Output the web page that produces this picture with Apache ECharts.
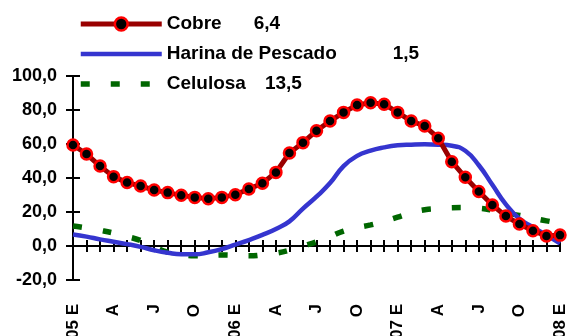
<!DOCTYPE html>
<html>
<head>
<meta charset="utf-8">
<script src="https://cdn.jsdelivr.net/npm/echarts@6/dist/echarts.min.js"></script>
<style>
html,body{margin:0;padding:0;background:#fff;}
#chart{width:568px;height:336px;}
</style>
</head>
<body>
<div id="chart"></div>
<script>
// months from Jan 2005 to Jan 2008
var months=['05-01','05-02','05-03','05-04','05-05','05-06','05-07','05-08','05-09','05-10','05-11','05-12',
    '06-01','06-02','06-03','06-04','06-05','06-06','06-07','06-08','06-09','06-10','06-11','06-12',
    '07-01','07-02','07-03','07-04','07-05','07-06','07-07','07-08','07-09','07-10','07-11','07-12',
    '08-01'];
var xLabels=['05 E','A','J','O','06 E','A','J','O','07 E','A','J','O','08 E'];

var cobre=[59.4,54.1,47,40.8,37.3,35.3,32.9,31.4,29.8,28.6,27.8,28.6,30.2,33.5,36.9,43.3,
    54.7,60.8,67.8,73.5,78.6,82.9,84.3,83.4,78.6,73.5,70.6,63.4,49.6,40.4,32,24.1,17.6,12.9,9,5.9,6.4];
var harina=[6.8,5.5,3.9,2.5,1.1,-0.5,-2.5,-4,-4.9,-4.9,-3.7,-1.8,0.8,3.5,6.5,10,
    14.5,22,29,37,47,53,56.1,58,59.2,59.6,59.8,59.6,59,56,47.5,36,24.5,16,11,6.5,1.5];
var celulosa=[11.8,10.6,9.2,7.6,5.6,3.2,-0.5,-3.6,-5,-5.8,-5.6,-5.3,-5.5,-5.8,-5.2,-4.2,
    -2.5,0,2.5,5.5,8.8,10.8,12.4,14.5,17,19.5,21.3,22,22.5,22.6,22.2,21.1,19.5,18,16.4,14.8,13.5];

var names=['Cobre','Harina de Pescado','Celulosa'];
var lastVals=[cobre,harina,celulosa].map(function(s){
    return s[s.length-1].toFixed(1).replace('.',',');
});
// month index -> value pairs for the numeric x axis
var pairs=function(s){
    return s.map(function(v,i){return [i,v];});
};

var font='Liberation Sans, Arial, sans-serif';
var chart=echarts.init(document.getElementById('chart'));

var monthAxis=function(extra){
    return Object.assign({
        type:'value',min:0,max:months.length-1,interval:1,splitLine:{show:false}
    },extra);
};
var valAxis=function(extra){
    return Object.assign({
        type:'value',min:-20,max:100,interval:20,splitLine:{show:false}
    },extra);
};
var line={color:'#000',width:2};
var blank={show:true,formatter:function(){return '';}};

chart.setOption({
    animation:false,
    grid:{left:73,right:8,top:76,bottom:56,containLabel:false,outerBoundsMode:'none'},
    legend:{
        orient:'vertical',left:78,top:14,padding:0,
        itemWidth:81,itemHeight:16,itemGap:10,
        data:[
            {name:'Cobre',lineStyle:{width:5},itemStyle:{borderWidth:2.5}},
            {name:'Harina de Pescado',lineStyle:{width:4.5},itemStyle:{opacity:0}},
            {name:'Celulosa',lineStyle:{width:5.5},itemStyle:{opacity:0}}
        ],
        formatter:function(name){
            var i=names.indexOf(name);
            return '{n|'+name+'}{v'+i+'|'+lastVals[i]+'}';
        },
        textStyle:{
            fontFamily:font,fontWeight:'bold',fontSize:19,color:'#000',lineHeight:20,
            rich:{
                n:{fontFamily:font,fontWeight:'bold',fontSize:19,color:'#000'},
                v0:{fontFamily:font,fontWeight:'bold',fontSize:19,color:'#000',padding:[0,0,0,32]},
                v1:{fontFamily:font,fontWeight:'bold',fontSize:19,color:'#000',padding:[0,0,0,56]},
                v2:{fontFamily:font,fontWeight:'bold',fontSize:19,color:'#000',padding:[0,0,0,19]}
            }
        }
    },
    xAxis:[
        monthAxis({
            position:'bottom',
            axisLine:{onZero:true,lineStyle:line},
            axisTick:{show:true,length:6,lineStyle:line},
            axisLabel:{show:false}
        }),
        // twin on the zero line, ticks pointing up
        monthAxis({
            position:'bottom',
            axisLine:{show:true,onZero:true,lineStyle:line},
            axisTick:{show:true,inside:true,length:6,lineStyle:line},
            axisLabel:blank
        }),
        monthAxis({
            position:'bottom',offset:0,
            axisLine:{show:false,onZero:false},
            axisTick:{show:false},
            axisLabel:{
                rotate:90,margin:24,showMinLabel:true,showMaxLabel:true,
                fontFamily:font,fontWeight:'bold',fontSize:17,color:'#000',
                formatter:function(v){return v%3===0?xLabels[v/3]:'';}
            }
        })
    ],
    yAxis:[
        valAxis({
            position:'left',
            axisLine:{show:true,onZero:false,lineStyle:line},
            axisTick:{show:true,length:7,lineStyle:line},
            axisLabel:{
                margin:16,fontFamily:font,fontWeight:'bold',fontSize:18,color:'#000',
                formatter:function(v){return v.toFixed(1).replace('.',',');}
            }
        }),
        // twin on the left edge, ticks pointing right
        valAxis({
            position:'left',
            axisLine:{show:true,onZero:false,lineStyle:line},
            axisTick:{show:true,inside:true,length:7,lineStyle:line},
            axisLabel:blank
        })
    ],
    series:[
        {
            name:'Celulosa',type:'line',data:pairs(celulosa),smooth:true,symbol:'none',z:3,
            lineStyle:{color:'#006600',width:5.5,type:[9,21]},
            itemStyle:{color:'#006600'}
        },
        {
            name:'Harina de Pescado',type:'line',data:pairs(harina),smooth:true,symbol:'none',z:4,
            lineStyle:{color:'#3535cf',width:4.5},
            itemStyle:{color:'#3535cf'}
        },
        {
            name:'Cobre',type:'line',data:pairs(cobre),symbol:'circle',symbolSize:11,
            showAllSymbol:true,z:5,
            lineStyle:{color:'#990000',width:5},
            itemStyle:{color:'#000',borderColor:'#ff0000',borderWidth:2.5}
        }
    ]
});
</script>
</body>
</html>
